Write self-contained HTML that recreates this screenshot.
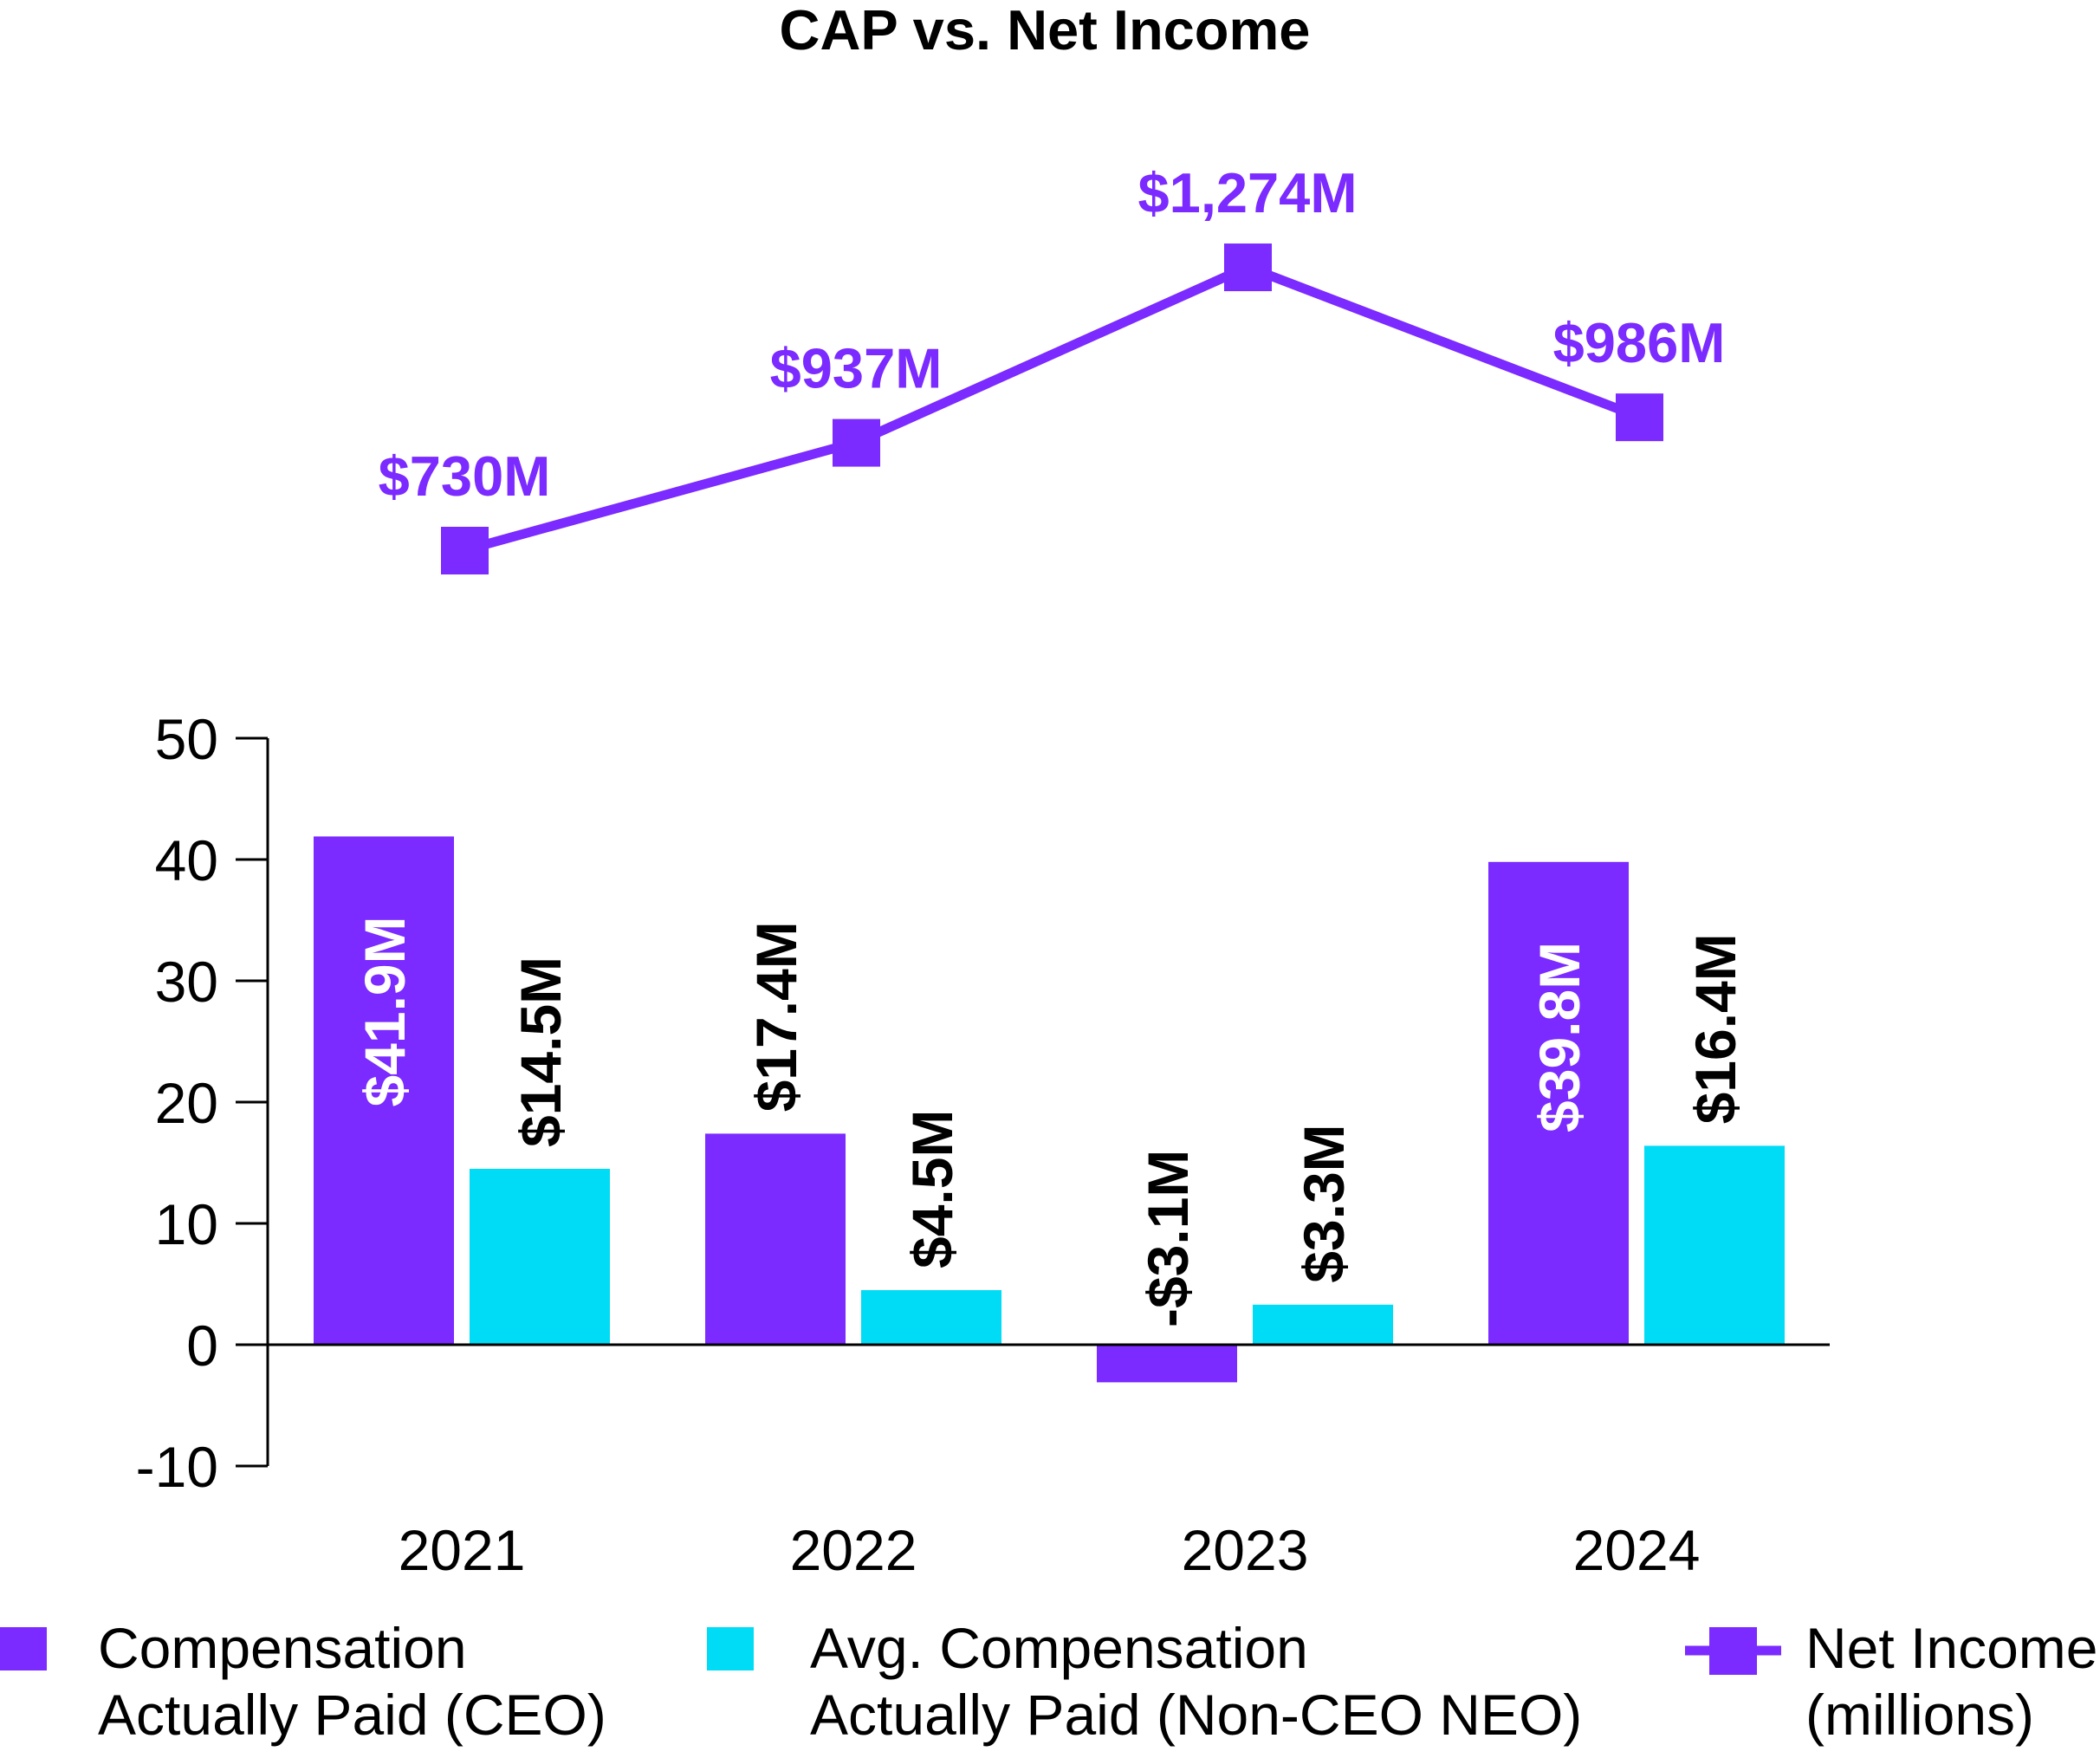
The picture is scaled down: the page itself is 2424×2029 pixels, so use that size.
<!DOCTYPE html>
<html><head><meta charset="utf-8"><style>
html,body{margin:0;padding:0;background:#fff}
svg{display:block;font-family:"Liberation Sans",Arial,sans-serif}
</style></head><body>
<svg id="chart" width="2424" height="2029" viewBox="0 0 2424 2029" xmlns="http://www.w3.org/2000/svg">
<text x="1206" y="57" font-size="65" font-weight="bold" text-anchor="middle">CAP vs. Net Income</text>
<g id="axes"></g>
<g id="bars"></g>
<g id="line"></g>
<g id="legend">
  <rect x="0" y="1878" width="54" height="50" fill="#7b2aff"/>
  <text font-size="66" x="113" y="1925">Compensation<tspan x="113" y="2002">Actually Paid (CEO)</tspan></text>
  <rect x="816" y="1878" width="54" height="50" fill="#00dcf5"/>
  <text font-size="66" x="935" y="1925">Avg. Compensation<tspan x="935" y="2002">Actually Paid (Non-CEO NEO)</tspan></text>
  <line x1="1945" y1="1905" x2="2056" y2="1905" stroke="#7b2aff" stroke-width="11"/>
  <rect x="1973" y="1878" width="55" height="55" fill="#7b2aff"/>
  <text font-size="66" x="2084" y="1925">Net Income<tspan x="2084" y="2002">(millions)</tspan></text>
</g>
</svg>
<script>
const years = ["2021","2022","2023","2024"];
const ceoCap = [41.9, 17.4, -3.1, 39.8];
const neoCap = [14.5, 4.5, 3.3, 16.4];
const netIncome = [730, 937, 1274, 986];
const ceoLabels = ["$41.9M","$17.4M","-$3.1M","$39.8M"];
const neoLabels = ["$14.5M","$4.5M","$3.3M","$16.4M"];
const niLabels = ["$730M","$937M","$1,274M","$986M"];
const yTicks = [50,40,30,20,10,0,-10];

const NS="http://www.w3.org/2000/svg";
function mk(tag, attrs, parent){const e=document.createElementNS(NS,tag);for(const k in attrs)e.setAttribute(k,attrs[k]);parent.appendChild(e);return e;}
const yScale = v => 1552 - v*14.0;
const xCenter = i => 533 + i*452;
const niScale = v => 635 - (v-730)*0.601;
const barW=162, gap=18;

const axes=document.getElementById('axes');
const yAxis=mk('line',{x1:309,y1:yScale(50),x2:309,y2:yScale(-10),stroke:'#000','stroke-width':3},axes);


yTicks.forEach(t=>{
  const y=yScale(t);
  const tk=mk('line',{x1:272,y1:y,x2:309,y2:y,stroke:'#000','stroke-width':3},axes);
  
  
  const lb=mk('text',{x:252,y:y+24,'font-size':66,'text-anchor':'end'},axes);
  lb.textContent=t;
  
  
});
years.forEach((yr,i)=>{
  const lb=mk('text',{x:xCenter(i),y:1812,'font-size':66,'text-anchor':'middle'},axes);
  lb.textContent=yr;
  
  
});

const bars=document.getElementById('bars');
function drawBar(v,cx,color,label,inside,name){
  const y0=yScale(0), y1=yScale(v);
  const r=mk('rect',{x:cx-barW/2,y:Math.min(y0,y1),width:barW,height:Math.abs(y1-y0),fill:color},bars);
  
  
  let anchorY, anchor, fill;
  if(inside){anchorY=y1+92;anchor='end';fill='#fff';}
  else if(v<0){anchorY=y0-20;anchor='start';fill='#000';}
  else{anchorY=y1-25;anchor='start';fill='#000';}
  const t=mk('text',{x:0,y:0,'font-size':66,'font-weight':'bold','text-anchor':anchor,fill:fill,
    transform:`translate(${cx+24},${anchorY}) rotate(-90)`},bars);
  t.textContent=label;
  
  
}
years.forEach((yr,i)=>{
  const c=xCenter(i);
  drawBar(ceoCap[i], c-gap/2-barW/2, '#7b2aff', ceoLabels[i], ceoCap[i]>30, 'bar-ceo-'+yr);
  drawBar(neoCap[i], c+gap/2+barW/2, '#00dcf5', neoLabels[i], false, 'bar-neo-'+yr);
});
const xAxis=mk('line',{x1:309,y1:yScale(0),x2:2112,y2:yScale(0),stroke:'#000','stroke-width':3},axes);


bars.parentNode.appendChild(axes);

const line=document.getElementById('line');
const pts=netIncome.map((v,i)=>[xCenter(i)+3,niScale(v)]);
const pl=mk('polyline',{points:pts.map(p=>p.join(',')).join(' '),fill:'none',stroke:'#7b2aff','stroke-width':11},line);


pts.forEach((p,i)=>{
  const m=mk('rect',{x:p[0]-27,y:p[1]-27,width:55,height:55,fill:'#7b2aff'},line);
  
  
  const t=mk('text',{x:p[0],y:p[1]-63,'font-size':65,'font-weight':'bold','text-anchor':'middle',fill:'#7b2aff'},line);
  t.textContent=niLabels[i];
  
  
});
</script>
</body></html>
